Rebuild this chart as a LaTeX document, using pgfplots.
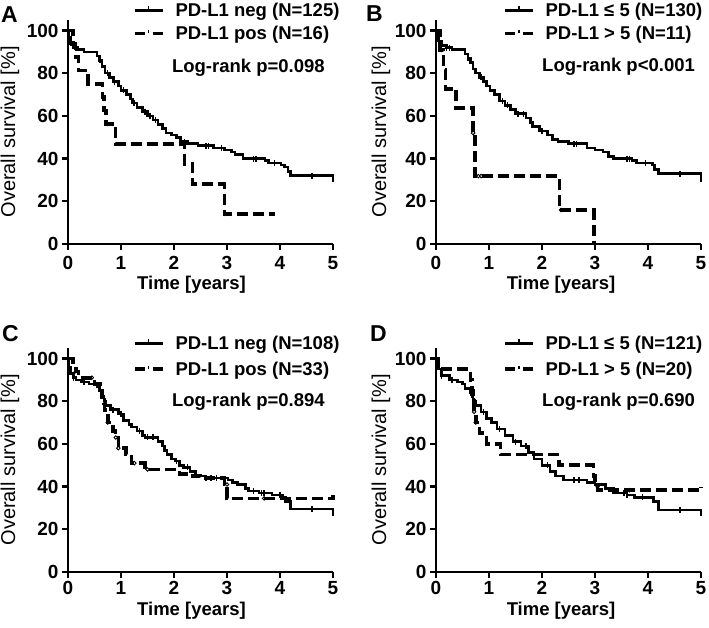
\documentclass[border=0pt]{standalone}
\usepackage{fontspec}
\setmainfont{Liberation Sans}
\usepackage{pgfplots}
\pgfplotsset{compat=1.18}

\pgfplotsset{
  kmaxis/.style={
    x=53pt, y=2.135pt,
    xmin=0, xmax=5, ymin=0, ymax=105,
    enlargelimits=false, clip=false,
    anchor=south west,
    axis x line*=bottom, axis y line*=left,
    axis line style={line width=2.2pt, -},
    xtick={0,1,2,3,4,5},
    ytick={0,20,40,60,80,100},
    tick align=outside, major tick length=6pt,
    tick style={line width=2.2pt, black},
    /pgf/number format/assume math mode=true,
    ticklabel style={font=\fontsize{19}{20}\selectfont\bfseries},
    xlabel={Time [years]},
    ylabel={Overall survival [\%]},
    xlabel style={font=\fontsize{18.5}{22}\selectfont\bfseries, anchor=center},
    ylabel style={font=\fontsize{20}{24}\selectfont, anchor=center},
    legend cell align=left,
    legend style={draw=none, fill=none, inner sep=0pt, outer sep=0pt,
      anchor=north west, row sep=8pt,
      font=\fontsize{18.5}{22}\selectfont\bfseries,
      nodes={inner sep=0pt},
      /tikz/every odd column/.append style={column sep=11pt}},
  },
  kmsolid/.style={const plot, black, line width=2.6pt, no marks,
    legend image code/.code={
      \draw[black, line width=2.6pt] (0pt,0pt) -- (28pt,0pt);
      \draw[black, line width=1.5pt] (14pt,0pt) -- (14pt,4pt);}},
  kmdash/.style={const plot, black, line width=3.6pt, no marks,
    dash pattern=on 11pt off 5pt,
    legend image code/.code={
      \draw[black, line width=3.6pt] (0pt,0pt) -- (10pt,0pt);
      \draw[black, line width=3.6pt] (18pt,0pt) -- (28pt,0pt);
      \draw[black, line width=1.5pt] (14pt,0pt) -- (14pt,3.5pt);}},
  cens/.style={only marks, mark=|, mark size=3pt, black,
    mark options={line width=1.5pt}, forget plot},
  censo/.style={only marks, mark=o, mark size=1.8pt, black,
    mark options={line width=0.9pt, fill=white}, forget plot},
}

\begin{document}
\begin{tikzpicture}
\path[use as bounding box] (0pt,0pt) rectangle (709pt,628pt);

% panel A
\begin{axis}[kmaxis, at={(68pt,384pt)},
  xticklabel style={yshift=-3pt},
  xlabel style={at={(axis description cs:0.466,-0.183)}},
  ylabel style={at={(axis description cs:-0.219,0.5)}},
  legend style={at={(rel axis cs:0.245,1.075)}}]
\addplot[kmsolid] coordinates {(0,100) (0.02,97) (0.05,94) (0.1,92) (0.18,91) (0.3,90) (0.55,88) (0.6,86) (0.64,83) (0.7,80) (0.78,78) (0.86,76) (0.95,74) (1.0,72) (1.1,70) (1.18,68) (1.22,66) (1.3,64) (1.4,62) (1.5,60) (1.6,58) (1.7,56) (1.78,54) (1.85,52) (1.95,51) (2.05,50) (2.12,48) (2.25,47) (2.45,46) (2.75,45) (2.95,44) (3.08,43) (3.15,42) (3.3,40) (3.72,39) (3.78,38) (4.02,37) (4.08,36) (4.15,34) (4.2,32) (4.98,32) (5,29)};
\addlegendentry{PD-L1 neg (N=125)}
\addplot[kmdash] coordinates {(0,100) (0.1,93.75) (0.14,87.5) (0.2,81.25) (0.38,75) (0.65,68.75) (0.68,62.5) (0.72,56.25) (0.9,46.9) (2.2,37.5) (2.35,28.1) (2.95,14.1) (3.9,14.1)};
\addlegendentry{PD-L1 pos (N=16)}
\addplot[cens] coordinates {(0.05,94) (0.15,92) (0.6,86) (0.75,80) (0.88,76) (1.05,72) (1.25,66) (1.45,62) (1.55,60) (1.65,58) (2.2,48) (2.6,46) (2.65,46) (2.9,45) (3.5,40) (3.55,40) (3.9,38) (4.6,32)};
\addplot[censo] coordinates {(0.7,62.5) (0.74,56.25) (2.97,14.1)};
\node[anchor=west, font=\fontsize{18.5}{22}\selectfont\bfseries, inner sep=0pt] at (rel axis cs:0.392,0.786) {Log-rank p=0.098};
\end{axis}

% panel B
\begin{axis}[kmaxis, at={(436pt,384pt)},
  xticklabel style={yshift=-3pt},
  xlabel style={at={(axis description cs:0.472,-0.183)}},
  ylabel style={at={(axis description cs:-0.208,0.5)}},
  legend style={at={(rel axis cs:0.253,1.075)}}]
\addplot[kmsolid] coordinates {(0,100) (0.02,97) (0.05,95) (0.1,93) (0.2,92) (0.3,91) (0.55,89) (0.6,87) (0.65,85) (0.7,82) (0.75,80) (0.82,78) (0.9,76) (0.95,74) (1.02,72) (1.1,70) (1.2,67) (1.3,65) (1.4,63) (1.5,61) (1.7,59) (1.78,57) (1.82,55) (1.95,53) (2.1,51) (2.2,49) (2.3,48) (2.5,47) (2.85,45) (3.0,44) (3.15,43) (3.25,41) (3.35,40) (3.7,39) (3.78,38) (4.08,37) (4.12,35) (4.2,33) (4.98,33) (5,29)};
\addlegendentry{PD-L1 ≤ 5 (N=130)}
\addplot[kmdash] coordinates {(0,100) (0.08,90.9) (0.14,81.8) (0.18,72.7) (0.38,63.6) (0.7,52) (0.74,31.8) (2.33,15.9) (2.98,0)};
\addlegendentry{PD-L1 > 5 (N=11)}
\addplot[cens] coordinates {(0.05,95) (0.2,92) (0.25,92) (0.6,87) (0.85,78) (1.25,67) (1.35,65) (1.55,61) (1.65,61) (2.0,53) (2.6,47) (2.65,47) (3.6,40) (3.65,40) (3.95,38) (4.6,33)};
\addplot[censo] coordinates {(0.1,90.9) (0.2,72.7) (0.7,52) (0.8,31.8) (0.85,31.8) (2.36,15.9)};
\node[anchor=west, font=\fontsize{18.5}{22}\selectfont\bfseries, inner sep=0pt] at (rel axis cs:0.4,0.79) {Log-rank p<0.001};
\end{axis}

% panel C
\begin{axis}[kmaxis, at={(68pt,56pt)},
  xlabel style={at={(axis description cs:0.466,-0.172)}},
  ylabel style={at={(axis description cs:-0.219,0.5)}},
  legend style={at={(rel axis cs:0.245,1.053)}, row sep=11pt}]
\addplot[kmsolid] coordinates {(0,100) (0.02,96) (0.05,93) (0.1,91) (0.15,90) (0.25,89) (0.4,88) (0.55,87) (0.6,85) (0.65,82) (0.68,80) (0.72,78) (0.8,76) (0.95,74) (1.05,71) (1.15,69) (1.2,68) (1.3,66) (1.4,64) (1.45,63) (1.7,61) (1.78,59) (1.82,57) (1.87,55) (1.95,53) (2.02,52) (2.1,50) (2.18,49) (2.3,47) (2.4,45) (2.6,44) (3.02,43) (3.1,42) (3.2,41) (3.35,39) (3.4,38) (3.6,37) (3.85,36) (4.05,35) (4.1,33) (4.2,29.5) (4.97,29.5) (5,26)};
\addlegendentry{PD-L1 neg (N=108)}
\addplot[kmdash] coordinates {(0,100) (0.1,97) (0.15,94) (0.2,91) (0.5,88) (0.6,85) (0.64,82) (0.67,79) (0.69,76) (0.7,73) (0.75,70) (0.85,66) (0.9,63) (0.95,58) (1.1,55) (1.2,51) (1.45,48) (2.0,48) (2.1,46) (2.3,45) (2.5,44) (2.95,41) (3.0,34.5) (5,34.5) (5,36)};
\addlegendentry{PD-L1 pos (N=33)}
\addplot[cens] coordinates {(0.1,91) (0.3,89) (0.7,80) (0.85,76) (1.0,74) (1.35,66) (1.5,63) (1.6,63) (2.05,52) (2.25,49) (2.6,44) (2.7,44) (2.8,44) (3.5,38) (3.65,37) (3.7,37) (4.0,36) (4.6,29.5)};
\addplot[censo] coordinates {(0.15,94) (0.45,91) (0.75,70) (0.9,63) (0.95,58) (1.25,51) (1.5,48) (3.0,41) (3.7,34.5)};
\node[anchor=west, font=\fontsize{18.5}{22}\selectfont\bfseries, inner sep=0pt] at (rel axis cs:0.392,0.759) {Log-rank p=0.894};
\end{axis}

% panel D
\begin{axis}[kmaxis, at={(436pt,56pt)},
  xlabel style={at={(axis description cs:0.472,-0.172)}},
  ylabel style={at={(axis description cs:-0.208,0.5)}},
  legend style={at={(rel axis cs:0.253,1.053)}, row sep=11pt}]
\addplot[kmsolid] coordinates {(0,100) (0.02,97) (0.05,95) (0.1,92) (0.25,90) (0.4,89) (0.5,88) (0.55,86) (0.65,84) (0.68,82) (0.7,80) (0.75,78) (0.85,75) (0.95,72) (1.05,70) (1.15,67) (1.3,64) (1.45,61) (1.6,59) (1.75,56) (1.85,53) (2.0,50) (2.15,47) (2.25,45) (2.4,43) (2.85,42) (3.0,41) (3.2,39) (3.35,37) (3.6,36) (3.75,35) (4.05,35) (4.1,33) (4.2,29) (4.97,29) (5,26)};
\addlegendentry{PD-L1 ≤ 5 (N=121)}
\addplot[kmdash] coordinates {(0,100) (0.05,95) (0.65,90) (0.68,85) (0.7,80) (0.72,75) (0.75,70) (0.82,65) (0.95,60) (1.22,55) (2.32,50) (2.97,45) (3.0,40) (3.05,38.3) (5,38.3) (5,40)};
\addlegendentry{PD-L1 > 5 (N=20)}
\addplot[cens] coordinates {(0.1,92) (0.3,90) (0.65,84) (0.72,80) (0.9,75) (1.2,67) (1.5,61) (1.7,59) (2.1,50) (2.6,43) (2.7,43) (3.55,37) (3.6,36) (3.9,35) (4.6,29)};
\addplot[censo] coordinates {(0.72,75) (0.75,70) (3.05,40) (3.65,38.3)};
\node[anchor=west, font=\fontsize{18.5}{22}\selectfont\bfseries, inner sep=0pt] at (rel axis cs:0.4,0.759) {Log-rank p=0.690};
\end{axis}

% panel letters
\node[anchor=base west, inner sep=0pt, font=\fontsize{23}{26}\selectfont\bfseries] at (1pt,605pt) {A};
\node[anchor=base west, inner sep=0pt, font=\fontsize{23}{26}\selectfont\bfseries] at (366pt,606pt) {B};
\node[anchor=base west, inner sep=0pt, font=\fontsize{23}{26}\selectfont\bfseries] at (2pt,286pt) {C};
\node[anchor=base west, inner sep=0pt, font=\fontsize{23}{26}\selectfont\bfseries] at (370pt,286pt) {D};
\end{tikzpicture}
\end{document}
